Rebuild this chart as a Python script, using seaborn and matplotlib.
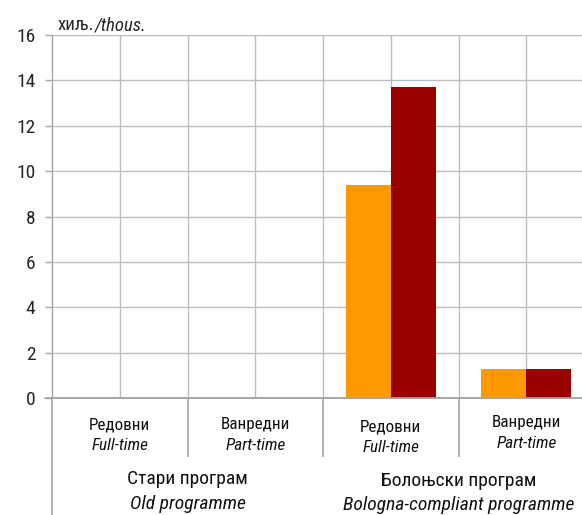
import numpy as np
import pandas as pd
import matplotlib
matplotlib.use("Agg")
import matplotlib.pyplot as plt
import seaborn as sns

# data (thousands)
categories = ["old_full", "old_part", "bol_full", "bol_part"]
series_1 = [0.0, 0.0, 9.37, 1.27]
series_2 = [0.0, 0.0, 13.71, 1.28]
cat_top = ["Редовни", "Ванредни", "Редовни", "Ванредни"]
cat_bottom = ["Full-time", "Part-time", "Full-time", "Part-time"]
group_top = ["Стари програм", "Болоњски програм"]
group_bottom = ["Old programme", "Bologna-compliant programme"]
y_ticks = [0, 2, 4, 6, 8, 10, 12, 14, 16]

df = pd.DataFrame({
    "cat": categories * 2,
    "series": ["s1"] * 4 + ["s2"] * 4,
    "value": series_1 + series_2,
})

sns.set_style("white")
plt.rcParams["font.family"] = ["Roboto Condensed", "Liberation Sans", "DejaVu Sans"]

grid_col = "#bdbdbd"
axis_col = "#a6a6a6"

fig = plt.figure(figsize=(5.82, 5.15), dpi=100)
ax = fig.add_axes([52 / 582, 117 / 515, 1 - 52 / 582, 363 / 515])

sns.barplot(data=df, x="cat", y="value", hue="series", order=categories,
            palette=["#FF9900", "#990000"], saturation=1, width=0.664, linewidth=0,
            legend=False, ax=ax, zorder=3)

ax.set_xlim(-0.5, 3.41)
ax.set_ylim(0, 16)
ax.set_yticks(y_ticks)
ax.set_yticklabels([str(v) for v in y_ticks], fontsize=14)
ax.tick_params(axis="y", length=5, width=1, color=axis_col, pad=7, left=True)

# vertical grid every half category
for xv in np.arange(0, 3.5, 0.5):
    ax.axvline(xv, color=grid_col, lw=1, zorder=1)
for yv in y_ticks[1:]:
    ax.axhline(yv, color=grid_col, lw=1, zorder=1)

for s in ["top", "right"]:
    ax.spines[s].set_visible(False)
ax.spines["left"].set_color(axis_col)
ax.spines["bottom"].set_color(axis_col)
ax.spines["left"].set_linewidth(1)
ax.spines["bottom"].set_linewidth(1.2)
ax.plot([-0.5 - 0.05, 3.41], [0, 0], color=axis_col, lw=1.2, clip_on=False, zorder=4)

# category separators below axis, left line runs to the bottom
ax.set_xticks([])
ax.set_xticks([0.5, 1.5, 2.5], minor=True)
ax.tick_params(axis="x", which="minor", length=42.5, width=1.2, color=axis_col,
               direction="out", bottom=True)
ax.axvline(-0.5, ymin=-117 / 363, ymax=0, color=axis_col, lw=1.2, clip_on=False)
ax.set_xlabel("")
ax.set_ylabel("")

# category labels
top_px = [27, 27, 29, 25]
bot_px = [48, 48, 50, 45]
for i in range(4):
    ax.annotate(cat_top[i], xy=(i, 0), xycoords=("data", "axes fraction"),
                xytext=(0, -top_px[i] * 0.72), textcoords="offset points",
                ha="center", va="center", fontsize=12.3, color="#111111")
    ax.annotate(cat_bottom[i], xy=(i, 0), xycoords=("data", "axes fraction"),
                xytext=(0, -bot_px[i] * 0.72), textcoords="offset points",
                ha="center", va="center", fontsize=12.3, style="italic", color="#111111")

group_x = [0.5, 2.5]
for i in range(2):
    ax.annotate(group_top[i], xy=(group_x[i], 0), xycoords=("data", "axes fraction"),
                xytext=(0, -(81 + 2 * i) * 0.72), textcoords="offset points",
                ha="center", va="center", fontsize=14, color="#111111")
    ax.annotate(group_bottom[i], xy=(group_x[i], 0), xycoords=("data", "axes fraction"),
                xytext=(0, -(106 + i) * 0.72), textcoords="offset points",
                ha="center", va="center", fontsize=14, style="italic", color="#111111")

# unit label
t1 = fig.text(58 / 582, 1 - 25 / 515, "хиљ.", fontsize=13.5, va="center", ha="left")
fig.canvas.draw()
bb = t1.get_window_extent()
fig.text(bb.x1 / fig.bbox.width, 1 - 25 / 515, "/thous.", fontsize=13.5,
         va="center", ha="left", style="italic")

fig.savefig("out.png", dpi=100)
